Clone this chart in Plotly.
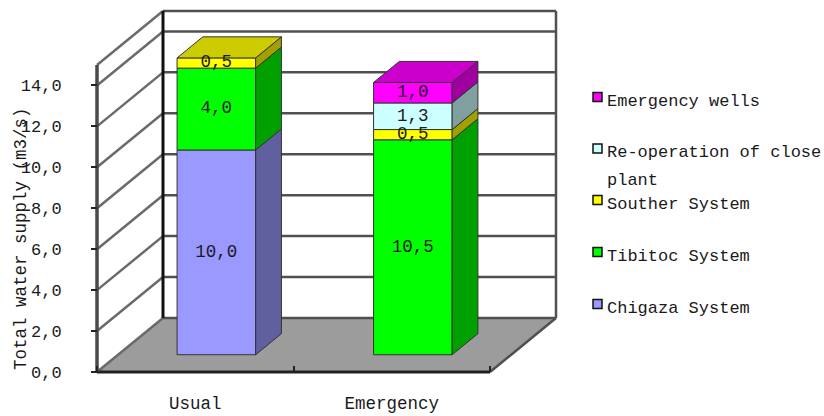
import plotly.graph_objects as go

# ---- data -------------------------------------------------------------
categories = ["Usual", "Emergency"]
series_names = ["Chigaza System", "Tibitoc System", "Souther System",
                "Re-operation of close plant", "Emergency wells"]
chigaza = [10.0, 0.0]
tibitoc = [4.0, 10.5]
souther = [0.5, 0.5]
reoperation = [0.0, 1.3]
emergency_wells = [0.0, 1.0]
y_tick_values = [0, 2, 4, 6, 8, 10, 12, 14]
y_tick_labels = ["0,0", "2,0", "4,0", "6,0", "8,0", "10,0", "12,0", "14,0"]
y_max = 15

series_values = [chigaza, tibitoc, souther, reoperation, emergency_wells]
front_colors = ["#9999FF", "#00FF00", "#FFFF00", "#CCFFFF", "#FF00FF"]


def shade(hex_color, k):
    r, g, b = (int(hex_color[i:i + 2], 16) for i in (1, 3, 5))
    return "#{:02X}{:02X}{:02X}".format(int(r * k), int(g * k), int(b * k))


side_colors = [shade(c, 0.63) for c in front_colors]
top_colors = [shade(c, 0.80) for c in front_colors]

FONT = "Liberation Mono"
FS = 17
TXT = "#1a1a1a"

# ---- oblique 3-D geometry (data units) ----------------------------------
W, H = 824, 416
PX_PER_CAT = 196.5        # pixels per category slot
PX_PER_UNIT = 20.47       # pixels per value unit
ORIGIN = (97, 372)        # pixel position of the front-left floor corner
DEPTH_X = 66 / PX_PER_CAT     # full depth, in category units
DEPTH_Y = 54 / PX_PER_UNIT    # full depth, in value units
BAR_Z0, BAR_Z1 = 0.32, 0.71   # bar front / back depth fractions
BAR_W = 0.40
N_CAT = len(categories)

# plot area in pixels
PL, PR, PT, PB = 88, 566, 6, 380
x_range = [(PL - ORIGIN[0]) / PX_PER_CAT, (PR - ORIGIN[0]) / PX_PER_CAT]
y_range = [(ORIGIN[1] - PB) / PX_PER_UNIT, (ORIGIN[1] - PT) / PX_PER_UNIT]


def paper_x(px):
    return (px - PL) / (PR - PL)


def paper_y(py):
    return (PB - py) / (PB - PT)


fig = go.Figure()

# ---- walls & floor ------------------------------------------------------
shapes = []


def seg(x0, y0, x1, y1, color, width):
    shapes.append(dict(type="line", xref="x", yref="y", x0=x0, y0=y0,
                       x1=x1, y1=y1, layer="below",
                       line=dict(color=color, width=width)))


floor_path = "M {a},{b} L {c},{b} L {d},{e} L {f},{e} Z".format(
    a=0, b=0, c=N_CAT, d=N_CAT + DEPTH_X, e=DEPTH_Y, f=DEPTH_X)
shapes.append(dict(type="path", xref="x", yref="y", path=floor_path,
                   fillcolor="#9C9C9C", line=dict(width=0), layer="below"))

wall_levels = [0] + y_tick_values[1:] + [y_max]
for v in wall_levels:
    # back wall grid line
    seg(DEPTH_X, v + DEPTH_Y, N_CAT + DEPTH_X, v + DEPTH_Y, "#505050", 2.5)
    # side wall grid line
    seg(0, v, DEPTH_X, v + DEPTH_Y, "#6a6a6a", 2.5)

seg(DEPTH_X, DEPTH_Y, DEPTH_X, y_max + DEPTH_Y, "#111111", 3)
seg(N_CAT + DEPTH_X, DEPTH_Y, N_CAT + DEPTH_X, y_max + DEPTH_Y, "#505050", 2.5)
seg(N_CAT, 0, N_CAT + DEPTH_X, DEPTH_Y, "#505050", 2.5)
seg(0, 0, N_CAT, 0, "#222222", 3)
seg(0, 0, 0, y_max, "#4a4a4a", 3.5)

# ---- stacked 3-D bars ---------------------------------------------------
dzx = (BAR_Z1 - BAR_Z0) * DEPTH_X
dzy = (BAR_Z1 - BAR_Z0) * DEPTH_Y
lift = BAR_Z0 * DEPTH_Y
label_x, label_y, label_t = [], [], []

for ci in range(N_CAT):
    xc = ci + 0.5 + BAR_Z0 * DEPTH_X
    xl, xr = xc - BAR_W / 2, xc + BAR_W / 2
    nonzero = [si for si in range(len(series_values)) if series_values[si][ci] > 0]
    cum = 0.0
    for si in nonzero:
        v = series_values[si][ci]
        b, t = cum + lift, cum + v + lift
        fig.add_trace(go.Bar(
            x=[xc], y=[v], base=[b], width=BAR_W,
            marker=dict(color=front_colors[si], line=dict(color="#333333", width=1)),
            showlegend=False, hoverinfo="skip"))
        fig.add_trace(go.Scatter(
            x=[xr, xr, xr + dzx, xr + dzx, xr],
            y=[b, t, t + dzy, b + dzy, b],
            mode="lines", fill="toself", fillcolor=side_colors[si],
            line=dict(color="#333333", width=1),
            showlegend=False, hoverinfo="skip"))
        if si == nonzero[-1]:
            fig.add_trace(go.Scatter(
                x=[xl, xr, xr + dzx, xl + dzx, xl],
                y=[t, t, t + dzy, t + dzy, t],
                mode="lines", fill="toself", fillcolor=top_colors[si],
                line=dict(color="#333333", width=1),
                showlegend=False, hoverinfo="skip"))
        label_x.append(xc)
        label_y.append(b + v / 2)
        label_t.append(f"{v:.1f}".replace(".", ","))
        cum += v

fig.add_trace(go.Scatter(
    x=label_x, y=label_y, text=label_t, mode="text",
    textposition="middle center",
    textfont=dict(family=FONT, size=17.5, color=TXT),
    showlegend=False, hoverinfo="skip"))

# ---- legend (top entry = last series) -----------------------------------
annotations = []
legend_rows = [97, 148.5, 200, 252, 304]
legend_text = {
    "Emergency wells": ["Emergency wells"],
    "Re-operation of close plant": ["Re-operation of close", "plant"],
    "Souther System": ["Souther System"],
    "Tibitoc System": ["Tibitoc System"],
    "Chigaza System": ["Chigaza System"],
}
for row_y, si in zip(legend_rows, reversed(range(len(series_names)))):
    shapes.append(dict(type="rect", xref="paper", yref="paper",
                       x0=paper_x(593), x1=paper_x(602),
                       y0=paper_y(row_y + 4.5), y1=paper_y(row_y - 4.5),
                       fillcolor=front_colors[si],
                       line=dict(color="#111111", width=1.5)))
    for li, line in enumerate(legend_text[series_names[si]]):
        annotations.append(dict(
            xref="paper", yref="paper", x=paper_x(605), y=paper_y(row_y + 4 + li * 28),
            xanchor="left", yanchor="middle", text=line, showarrow=False,
            font=dict(family=FONT, size=FS, color=TXT)))

annotations.append(dict(
    xref="paper", yref="paper", x=paper_x(21), y=paper_y(239),
    text="Total water supply (m3/s)", textangle=-90, showarrow=False,
    xanchor="center", yanchor="middle",
    font=dict(family=FONT, size=17.5, color=TXT)))

fig.update_layout(
    width=W, height=H,
    margin=dict(l=PL, r=W - PR, t=PT, b=H - PB, pad=0, autoexpand=False),
    paper_bgcolor="white", plot_bgcolor="white",
    barmode="overlay", showlegend=False,
    shapes=shapes, annotations=annotations,
    font=dict(family=FONT, size=FS, color=TXT),
    xaxis=dict(range=x_range, anchor="free", position=paper_y(ORIGIN[1]),
               automargin=False,
               tickvals=[i + 0.5 for i in range(N_CAT)], ticktext=categories,
               tickfont=dict(size=17.5),
               ticks="", showgrid=False, zeroline=False, showline=False,
               ticklabelstandoff=18,
               minor=dict(tickvals=list(range(N_CAT + 1)), ticks="inside",
                          ticklen=6, tickcolor="#222222", tickwidth=1.5,
                          showgrid=False)),
    yaxis=dict(range=y_range, anchor="free", position=paper_x(ORIGIN[0]),
               automargin=False,
               tickvals=y_tick_values, ticktext=y_tick_labels,
               ticks="outside", ticklen=6, tickcolor="#222222", tickwidth=1.5,
               ticklabelstandoff=26,
               showgrid=False, zeroline=False, showline=False),
)

fig.write_html("out.html")
